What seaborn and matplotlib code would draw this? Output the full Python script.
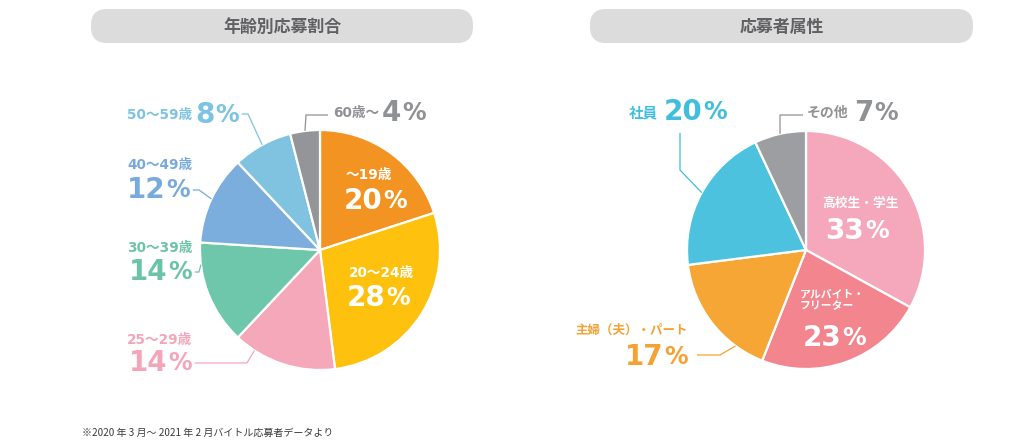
import numpy as np
import matplotlib
matplotlib.use("Agg")
import matplotlib.pyplot as plt
from matplotlib.patches import FancyBboxPatch
import seaborn as sns

# ---------------- data ----------------
titles = ["年齢別応募割合", "応募者属性"]
age_labels = ["～19歳", "20～24歳", "25～29歳", "30～39歳", "40～49歳", "50～59歳", "60歳～"]
age_values = [20, 28, 14, 14, 12, 8, 4]
attr_labels = ["高校生・学生", "アルバイト・\nフリーター", "主婦（夫）・パート", "社員", "その他"]
attr_values = [33, 23, 17, 20, 7]
note = "※2020 年 3 月～ 2021 年 2 月バイトル応募者データより"

age_colors = ["#F39422", "#FEC10E", "#F4A8BA", "#6FC7AB", "#7BADDD", "#80C3E1", "#939598"]
age_text_colors = ["white", "white", "#F3A6B9", "#6CC4A7", "#79AADC", "#7DC3E2", "#8F9194"]
attr_colors = ["#F5A8BB", "#F3858F", "#F6A635", "#4CC2DF", "#9C9EA1"]
attr_text_colors = ["white", "white", "#F5A133", "#3FBFDD", "#8F9194"]

# ---------------- style ----------------
sns.set_theme(style="white")
plt.rcParams['font.family'] = ['Noto Sans CJK JP', 'DejaVu Sans']
LABEL_FAMILY = ['DejaVu Sans', 'Noto Sans CJK JP']

W, H = 1036, 448
fig = plt.figure(figsize=(W / 100, H / 100), dpi=100)
fig.patch.set_facecolor("white")
over = fig.add_axes([0, 0, 1, 1], zorder=5)
over.set_xlim(0, W)
over.set_ylim(H, 0)
over.axis("off")
over.patch.set_alpha(0)

renderer = fig.canvas.get_renderer()
inv = over.transData.inverted()

NAME_SIZE = 9.8
PCT_SIZE = 20


def text_width(t):
    bb = t.get_window_extent(renderer=renderer)
    p0 = inv.transform((bb.x0, bb.y0))
    p1 = inv.transform((bb.x1, bb.y0))
    return p1[0] - p0[0]


def big_pct(x, y, value, color, ha="left", size=PCT_SIZE):
    tn = over.text(0, y, str(value), fontsize=size, fontweight="bold",
                   family="DejaVu Sans", color=color, ha="left", va="center")
    tp = over.text(0, y, "%", fontsize=size * 0.85, fontweight="semibold",
                   family="DejaVu Sans", color=color, ha="left", va="center")
    wn = text_width(tn)
    wp = text_width(tp)
    gap = 0.5
    total = wn + gap + wp
    if ha == "left":
        x0 = x
    elif ha == "center":
        x0 = x - total / 2
    else:
        x0 = x - total
    tn.set_x(x0)
    tp.set_x(x0 + wn + gap)
    return x0 + total


def draw_pie(cx, cy, r, values, colors):
    ax = fig.add_axes([(cx - r) / W, (H - cy - r) / H, 2 * r / W, 2 * r / H], zorder=1)
    ax.pie(values, colors=colors, startangle=90, counterclock=False,
           wedgeprops=dict(edgecolor="white", linewidth=1.6))
    ax.set_xlim(-1, 1)
    ax.set_ylim(-1, 1)
    ax.axis("off")
    return ax


def anchor_point(ax, values, i, frac):
    tot = float(sum(values))
    before = sum(values[:i])
    start = 90 - 360 * before / tot
    end = start - 360 * values[i] / tot
    a = np.deg2rad(start + frac * (end - start))
    disp = ax.transData.transform((np.cos(a), np.sin(a)))
    return inv.transform(disp)


def draw_leader(ax, values, i, L, color, text_end=None):
    ap = anchor_point(ax, values, i, L["frac"])
    (x_end, y_end), (x_elb, y_elb) = L["lead"]
    if text_end is not None and x_end < x_elb and x_end < text_end + 3:
        x_end = min(text_end + 3, x_elb - 4)
    over.plot([x_end, x_elb, ap[0]], [y_end, y_elb, ap[1]], color=color, lw=0.9,
              solid_capstyle="butt")


def title_box(x0, x1, y0, y1, text):
    box = FancyBboxPatch((x0, y0), x1 - x0, y1 - y0,
                         boxstyle="round,pad=0,rounding_size=16",
                         facecolor="#DCDCDD", edgecolor="none")
    over.add_patch(box)
    over.text((x0 + x1) / 2, (y0 + y1) / 2 + 1, text, fontsize=12.2, fontweight="bold",
              color="#606062", ha="center", va="center")


title_box(91, 473, 9, 43, titles[0])
title_box(590, 973, 9, 43, titles[1])

# ---------------- left pie ----------------
axL = draw_pie(320, 250, 120, age_values, age_colors)

left_layout = [
    dict(name=(369, 175), nha="center", pct=(375, 201), pha="center"),
    dict(name=(381, 273), nha="center", pct=(378, 298), pha="center"),
    dict(name=(127, 340), nha="left", pct=(129, 363), pha="left", lead=[(185, 363), (247, 363)], frac=0.8),
    dict(name=(127, 248), nha="left", pct=(129, 272), pha="left", lead=[(184, 272), (199, 272)], frac=0.79),
    dict(name=(127, 165), nha="left", pct=(127, 190), pha="left", lead=[(181, 190), (199, 190)], frac=0.5),
    dict(name=(127, 115), nha="left", pct=None, pha="left", lead=[(240, 114), (248, 114)], frac=0.5),
    dict(name=(333, 113), nha="left", pct=None, pha="left", lead=[(328, 115), (306, 115)], frac=0.5),
]

for i, (lab, val) in enumerate(zip(age_labels, age_values)):
    L = left_layout[i]
    c = age_text_colors[i]
    tn = over.text(L["name"][0], L["name"][1], lab, fontsize=NAME_SIZE, fontweight="bold",
                   family=LABEL_FAMILY, color=c, ha=L["nha"], va="center")
    if L["pct"] is None:
        x_after = L["name"][0] + text_width(tn) + 3
        end = big_pct(x_after, L["name"][1], val, c, ha="left")
    else:
        end = big_pct(L["pct"][0], L["pct"][1], val, c, ha=L["pha"])
    if "lead" in L:
        draw_leader(axL, age_values, i, L, c, text_end=end)

# ---------------- right pie ----------------
axR = draw_pie(806, 250, 119, attr_values, attr_colors)

right_layout = [
    dict(name=(860, 203), nha="center", pct=(857, 231), pha="center", size=9.2),
    dict(name=(800, 300), nha="left", pct=(834, 338), pha="center", size=7.8),
    dict(name=(688, 330), nha="right", pct=(688, 357), pha="right", size=9.0,
         lead=[(697, 355), (720, 355)], frac=0.24),
    dict(name=(629, 112), nha="left", pct=None, pha="left", size=10.5,
         lead=[(680, 133), (680, 170)], frac=0.5),
    dict(name=(807, 113), nha="left", pct=None, pha="left", size=10,
         lead=[(803, 115), (780, 115)], frac=0.5),
]

for i, (lab, val) in enumerate(zip(attr_labels, attr_values)):
    L = right_layout[i]
    c = attr_text_colors[i]
    tn = over.text(L["name"][0], L["name"][1], lab, fontsize=L["size"], fontweight="bold",
                   color=c, ha=L["nha"], va="center", linespacing=1.25)
    if L["pct"] is None:
        x_after = L["name"][0] + text_width(tn) + 6
        big_pct(x_after, L["name"][1], val, c, ha="left")
    else:
        big_pct(L["pct"][0], L["pct"][1], val, c, ha=L["pha"])
    if "lead" in L:
        draw_leader(axR, attr_values, i, L, c)

# ---------------- footnote ----------------
over.text(82, 433, note, fontsize=7.2, color="#3A3A3A", ha="left", va="center")

fig.savefig("out.png", dpi=100, facecolor="white")
